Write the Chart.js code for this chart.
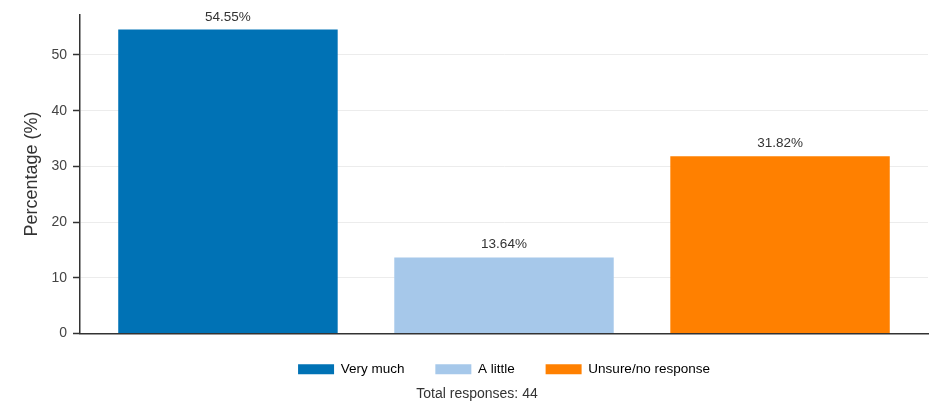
<!DOCTYPE html>
<html>
<head>
<meta charset="utf-8">
<script src="https://cdn.jsdelivr.net/npm/chart.js@4/dist/chart.umd.min.js"></script>
<style>
  html, body { margin: 0; padding: 0; background: #fff; }
  #wrap { width: 933px; height: 406px; }
</style>
</head>
<body>
<div id="wrap"><canvas id="chart"></canvas></div>
<script>
// Chart data
const categories = ["Very much", "A little", "Unsure/no response"];
const percentages = [54.55, 13.64, 31.82];
const barColors = ["#0072B5", "#A6C8EA", "#FF8000"];
const yTicks = [0, 10, 20, 30, 40, 50];
const totalResponses = 44;

const FONT = "'Liberation Sans', Arial, sans-serif";

// Value labels above each bar
const valueLabels = {
  id: "valueLabels",
  afterDatasetsDraw(chart) {
    const ctx = chart.ctx;
    const meta = chart.getDatasetMeta(0);
    ctx.save();
    ctx.font = "13.5px " + FONT;
    ctx.fillStyle = "#333";
    ctx.textAlign = "center";
    ctx.textBaseline = "bottom";
    meta.data.forEach((bar, i) => {
      ctx.fillText(percentages[i].toFixed(2) + "%", bar.x, bar.y - 6);
    });
    ctx.restore();
  },
};

// "Total responses" footnote under the legend
const footnote = {
  id: "footnote",
  afterDraw(chart) {
    const ctx = chart.ctx;
    ctx.save();
    ctx.font = "14px " + FONT;
    ctx.fillStyle = "#333";
    ctx.textAlign = "center";
    ctx.textBaseline = "middle";
    ctx.fillText("Total responses: " + totalResponses, 477, chart.height - 12);
    ctx.restore();
  },
};

new Chart(document.getElementById("chart"), {
  type: "bar",
  data: {
    datasets: [
      {
        data: percentages.map((v, i) => ({ x: i, y: v })),
        backgroundColor: barColors,
        borderWidth: 0,
        barPercentage: 0.795,
        categoryPercentage: 1,
      },
    ],
  },
  options: {
    responsive: true,
    maintainAspectRatio: false,
    animation: false,
    layout: { padding: { top: 7, right: 5, left: 0, bottom: 20 } },
    plugins: {
      legend: {
        position: "bottom",
        fullSize: false,
        labels: {
          font: { family: FONT, size: 13.5 },
          color: "#333",
          boxWidth: 36,
          boxHeight: 10,
          padding: 12,
          generateLabels: () =>
            categories.map((c, i) => ({
              // extra spaces widen the gap between entries
              text: i < categories.length - 1 ? c + "     " : c,
              fillStyle: barColors[i],
              strokeStyle: barColors[i],
              lineWidth: 0,
              hidden: false,
              index: i,
            })),
        },
      },
      tooltip: { enabled: false },
    },
    scales: {
      x: {
        type: "linear",
        offset: false,
        min: -0.536,
        max: 2.536,
        afterBuildTicks(scale) {
          scale.ticks = categories.map((c, i) => ({ value: i }));
        },
        ticks: { display: false },
        grid: { display: false, drawTicks: false },
        border: { display: true, color: "#333", width: 1.5 },
        afterFit(scale) {
          scale.height = 17;
        },
      },
      y: {
        min: 0,
        max: 57.28,
        afterBuildTicks(scale) {
          scale.ticks = yTicks.map((v) => ({ value: v }));
        },
        ticks: {
          color: "#444",
          font: { family: FONT, size: 14 },
          padding: 6,
        },
        grid: {
          color: "#ececec",
          tickColor: "#333",
          tickLength: 7,
          tickWidth: 1.5,
        },
        border: { display: true, color: "#333", width: 1.5 },
        title: {
          display: true,
          text: "Percentage (%)",
          color: "#333",
          font: { family: FONT, size: 18 },
          padding: { top: 21, bottom: 0 },
        },
        afterFit(scale) {
          scale.width = 80;
        },
      },
    },
  },
  plugins: [valueLabels, footnote],
});
</script>
</body>
</html>
